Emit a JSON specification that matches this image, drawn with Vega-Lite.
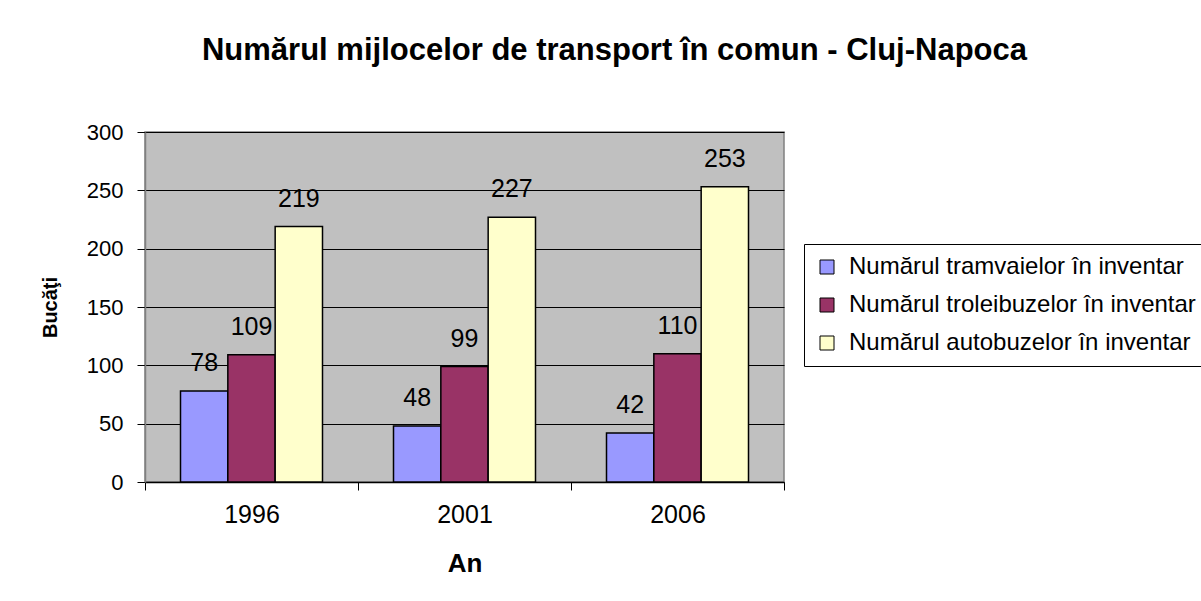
{
  "$schema": "https://vega.github.io/schema/vega-lite/v6.json",
  "width": 639,
  "height": 350,
  "autosize": {"type": "none"},
  "padding": {"left": 145, "top": 132, "right": 417, "bottom": 119},
  "background": "white",
  "title": {
    "text": "Numărul mijlocelor de transport în comun - Cluj-Napoca",
    "font": "Liberation Sans",
    "fontSize": 31,
    "fontWeight": "bold",
    "color": "black",
    "anchor": "middle",
    "baseline": "alphabetic",
    "dx": 150,
    "offset": 30,
    "limit": 1200
  },
  "config": {
    "font": "Liberation Sans",
    "view": {"fill": "#C0C0C0", "stroke": "#808080", "strokeWidth": 1.5}
  },
  "data": {
    "values": [
      {"an": "1996", "serie": "Numărul tramvaielor în inventar", "valoare": 78},
      {"an": "1996", "serie": "Numărul troleibuzelor în inventar", "valoare": 109},
      {"an": "1996", "serie": "Numărul autobuzelor în inventar", "valoare": 219},
      {"an": "2001", "serie": "Numărul tramvaielor în inventar", "valoare": 48},
      {"an": "2001", "serie": "Numărul troleibuzelor în inventar", "valoare": 99},
      {"an": "2001", "serie": "Numărul autobuzelor în inventar", "valoare": 227},
      {"an": "2006", "serie": "Numărul tramvaielor în inventar", "valoare": 42},
      {"an": "2006", "serie": "Numărul troleibuzelor în inventar", "valoare": 110},
      {"an": "2006", "serie": "Numărul autobuzelor în inventar", "valoare": 253}
    ]
  },
  "encoding": {
    "x": {
      "field": "an",
      "type": "nominal",
      "scale": {"paddingInner": 0, "paddingOuter": 0},
      "axis": {
        "title": "An",
        "titleFont": "Liberation Sans",
        "titleFontSize": 26,
        "titleFontWeight": "bold",
        "titleColor": "black",
        "titlePadding": 23,
        "labelAngle": 0,
        "labelFontSize": 25,
        "labelColor": "black",
        "labelPadding": 12,
        "tickBand": "extent",
        "tickColor": "black",
        "tickSize": 8,
        "domainColor": "black",
        "domainWidth": 1.5
      }
    },
    "xOffset": {
      "field": "serie",
      "type": "nominal",
      "sort": ["Numărul tramvaielor în inventar", "Numărul troleibuzelor în inventar", "Numărul autobuzelor în inventar"],
      "scale": {"paddingInner": 0, "paddingOuter": 0.75}
    },
    "y": {
      "field": "valoare",
      "type": "quantitative",
      "scale": {"domain": [0, 300], "nice": false},
      "axis": {
        "title": "Bucăţi",
        "titleFont": "Liberation Sans",
        "titleFontSize": 20,
        "titleFontWeight": "bold",
        "titleColor": "black",
        "titlePadding": 26,
        "values": [0, 50, 100, 150, 200, 250, 300],
        "labelFontSize": 22,
        "labelColor": "black",
        "labelPadding": 14,
        "tickColor": "black",
        "tickSize": 8,
        "domainColor": "#808080",
        "domainWidth": 1.5,
        "gridColor": "black",
        "gridOpacity": 1,
        "gridWidth": 1
      }
    }
  },
  "layer": [
    {
      "mark": {"type": "bar", "stroke": "black", "strokeWidth": 1.5},
      "encoding": {
        "color": {
          "field": "serie",
          "type": "nominal",
          "scale": {
            "domain": ["Numărul tramvaielor în inventar", "Numărul troleibuzelor în inventar", "Numărul autobuzelor în inventar"],
            "range": ["#9999FF", "#993366", "#FFFFCC"]
          },
          "legend": {
            "title": null,
            "orient": "none",
            "legendX": 659,
            "legendY": 112,
            "strokeColor": "black",
            "fillColor": "white",
            "padding": 11,
            "symbolType": "square",
            "symbolSize": 196,
            "symbolStrokeColor": "black",
            "symbolStrokeWidth": 1,
            "symbolOpacity": 1,
            "labelFontSize": 24,
            "labelColor": "black",
            "labelLimit": 600,
            "labelOffset": 10,
            "rowPadding": 14
          }
        }
      }
    },
    {
      "mark": {"type": "text", "fontSize": 25, "color": "black", "baseline": "alphabetic", "dy": -20},
      "encoding": {
        "text": {"field": "valoare", "type": "quantitative"}
      }
    }
  ]
}
